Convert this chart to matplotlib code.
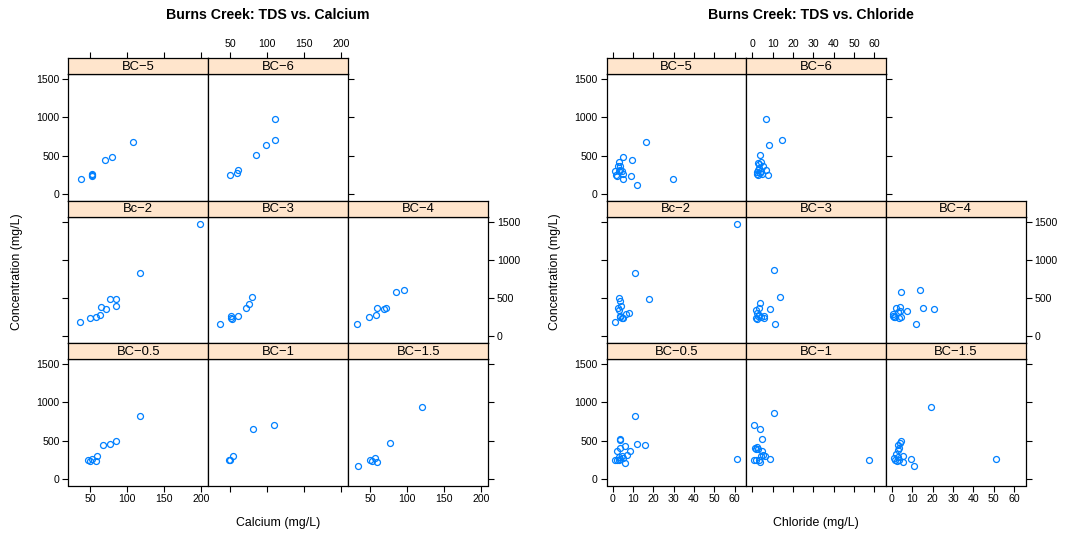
import matplotlib
matplotlib.use("Agg")
import matplotlib.pyplot as plt

plt.rcParams['font.family'] = ['Liberation Sans', 'DejaVu Sans']

# ---- panel order (lattice layout, top row first) ----
panel_rows = [["BC-5", "BC-6", None],
              ["Bc-2", "BC-3", "BC-4"],
              ["BC-0.5", "BC-1", "BC-1.5"]]

# ---- TDS vs Calcium ----
ca_bc5 = [37.4, 51.9, 51.9, 51.9, 69.9, 79.3, 108]
tds_ca_bc5 = [192, 258, 249, 236, 436, 488, 681]
ca_bc6 = [49.6, 58.6, 60, 84.7, 97.8, 110, 110]
tds_ca_bc6 = [244, 275, 314, 510, 641, 711, 982]
ca_bc2 = [35.7, 49.6, 58.1, 63.5, 64.5, 71.2, 77, 84.3, 85.1, 117.6, 197.8]
tds_ca_bc2 = [183, 241, 258, 275, 380, 353, 489, 489, 398, 830, 1471]
ca_bc3 = [36.5, 50.5, 51.4, 52.3, 60.8, 71.2, 74.9, 78.9]
tds_ca_bc3 = [162, 267, 245, 223, 271, 376, 428, 510]
ca_bc4 = [31.6, 48.6, 57.3, 59, 68.5, 71.2, 85.1, 95.9]
tds_ca_bc4 = [162, 258, 275, 372, 363, 372, 585, 602]
ca_bc05 = [47.3, 50, 52.7, 57.7, 59.5, 66.8, 76.6, 84.3, 117.6]
tds_ca_bc05 = [240, 235, 257, 235, 292, 449, 462, 501, 824]
ca_bc1 = [48.6, 49.7, 53.2, 80.3, 109]
tds_ca_bc1 = [244, 244, 296, 658, 698]
ca_bc15 = [33.8, 49.6, 51.9, 56.4, 58.6, 76.1, 119.5]
tds_ca_bc15 = [165, 252, 239, 270, 226, 466, 937]

# ---- TDS vs Chloride ----
cl_bc5 = [1.0, 1.6, 2.3, 3.1, 2.8, 3.6, 3.3, 3.9, 4.6, 5.2, 5.1, 5.1, 9.0, 9.6, 12.1, 16.4, 29.7]
tds_cl_bc5 = [301, 244, 235, 415, 358, 362, 292, 305, 292, 258, 196, 488, 235, 436, 109, 681, 196]
cl_bc6 = [2.6, 2.5, 3.0, 2.8, 3.4, 4.1, 3.3, 4.4, 3.9, 5.1, 6.7, 7.9, 3.8, 8.2, 14.6, 6.9, 2.3, 4.8]
tds_cl_bc6 = [249, 279, 314, 401, 393, 419, 344, 292, 271, 362, 314, 249, 510, 641, 711, 982, 262, 258]
cl_bc2 = [1.1, 3.1, 3.6, 4.2, 2.9, 3.3, 3.9, 4.6, 3.6, 5.2, 6.5, 8.2, 11.0, 18.0, 61.3]
tds_cl_bc2 = [183, 497, 463, 398, 367, 340, 267, 245, 254, 245, 297, 306, 830, 493, 1471]
cl_bc3 = [1.8, 2.3, 2.0, 2.6, 3.1, 3.8, 3.4, 4.3, 5.7, 5.9, 8.7, 11.2, 13.8, 10.7, 2.5]
tds_cl_bc3 = [345, 301, 236, 271, 367, 432, 280, 258, 245, 271, 353, 162, 510, 869, 227]
cl_bc4 = [0.3, 1.0, 1.7, 2.1, 2.8, 3.3, 3.8, 4.1, 4.6, 4.4, 7.6, 12.0, 14.0, 15.4, 20.5, 0.7]
tds_cl_bc4 = [293, 254, 249, 376, 323, 245, 327, 389, 254, 585, 332, 162, 602, 372, 363, 271]
cl_bc05 = [1.3, 2.3, 2.0, 3.3, 3.9, 3.9, 3.9, 3.9, 4.6, 5.2, 5.9, 5.9, 7.2, 8.5, 11.0, 12.1, 16.0, 61.0, 3.0]
tds_cl_bc05 = [240, 240, 362, 283, 257, 397, 527, 505, 296, 266, 209, 423, 318, 366, 824, 462, 445, 257, 249]
cl_bc1 = [1.0, 1.8, 1.1, 3.8, 1.3, 2.5, 2.8, 3.3, 3.9, 4.4, 4.8, 5.1, 6.5, 8.9, 4.6, 10.7, 57.1, 2.0]
tds_cl_bc1 = [240, 249, 698, 658, 397, 419, 393, 240, 226, 296, 362, 318, 292, 257, 524, 868, 249, 388]
cl_bc15 = [1.0, 1.7, 2.5, 3.0, 3.3, 2.1, 2.8, 3.1, 3.8, 4.4, 5.4, 5.4, 9.4, 10.7, 19.4, 51.2, 3.3]
tds_cl_bc15 = [266, 240, 231, 283, 249, 322, 375, 440, 471, 501, 296, 226, 257, 165, 937, 257, 406]

y_ticks = [0, 500, 1000, 1500]
ca_ticks = [50, 100, 150, 200]
cl_ticks = [0, 10, 20, 30, 40, 50, 60]

calcium = {"BC-5": (ca_bc5, tds_ca_bc5), "BC-6": (ca_bc6, tds_ca_bc6),
           "Bc-2": (ca_bc2, tds_ca_bc2), "BC-3": (ca_bc3, tds_ca_bc3),
           "BC-4": (ca_bc4, tds_ca_bc4), "BC-0.5": (ca_bc05, tds_ca_bc05),
           "BC-1": (ca_bc1, tds_ca_bc1), "BC-1.5": (ca_bc15, tds_ca_bc15)}
chloride = {"BC-5": (cl_bc5, tds_cl_bc5), "BC-6": (cl_bc6, tds_cl_bc6),
            "Bc-2": (cl_bc2, tds_cl_bc2), "BC-3": (cl_bc3, tds_cl_bc3),
            "BC-4": (cl_bc4, tds_cl_bc4), "BC-0.5": (cl_bc05, tds_cl_bc05),
            "BC-1": (cl_bc1, tds_cl_bc1), "BC-1.5": (cl_bc15, tds_cl_bc15)}

W, H = 1066, 537
fig = plt.figure(figsize=(W / 100, H / 100), dpi=100)


def rect(x0, y0, x1, y1):
    return [x0 / W, 1 - y1 / H, (x1 - x0) / W, (y1 - y0) / H]


TICK = dict(direction='out', length=4.3, width=0.8, labelsize=7.6, pad=2, colors='black')


def lattice(left_px, panel_w, data, xlim, xticks, title, xlabel, title_x, ylab_x):
    strip_h = 16
    panel_h = 126.5
    top = 58
    for r, row in enumerate(panel_rows):
        st = top + r * (strip_h + panel_h)
        for c, name in enumerate(row):
            if name is None:
                continue
            x0 = left_px + c * panel_w
            x1 = x0 + panel_w
            ax = fig.add_axes(rect(x0, st + strip_h, x1, st + strip_h + panel_h))
            xs, ys = data[name]
            ax.plot(xs, ys, 'o', mfc='none', mec='#0080ff', ms=4.3, mew=0.9)
            ax.set_xlim(xlim)
            ax.set_ylim(-88, 1569)
            ax.set_xticks(xticks)
            ax.set_yticks(y_ticks)
            for s in ax.spines.values():
                s.set_linewidth(0.9)
            ax.tick_params(**TICK)
            last = (c == len([n for n in row if n]) - 1)
            ax.tick_params(axis='y', left=(c == 0), labelleft=(c == 0 and r != 1),
                           right=last, labelright=(last and r == 1))
            bottom_row = (r == 2)
            ax.tick_params(axis='x', top=False, labeltop=False,
                           bottom=bottom_row, labelbottom=(bottom_row and c != 1))

            # strip
            sx = fig.add_axes(rect(x0, st, x1, st + strip_h))
            sx.set_facecolor('#ffe5cc')
            sx.set_xlim(xlim)
            sx.set_yticks([])
            sx.set_xticks(xticks)
            for s in sx.spines.values():
                s.set_linewidth(0.9)
            sx.tick_params(**TICK)
            sx.tick_params(axis='x', bottom=False, labelbottom=False,
                           top=(r == 0), labeltop=(r == 0 and c == 1))
            sx.text(0.5, 0.45, name.replace('-', '\u2212'), transform=sx.transAxes,
                    ha='center', va='center', fontsize=9.4)

    fig.text(title_x / W, 1 - 15 / H, title, ha='center', va='center',
             fontsize=10.2, fontweight='bold')
    fig.text((left_px + 1.5 * panel_w) / W, 1 - 523 / H, xlabel,
             ha='center', va='center', fontsize=8.9)
    fig.text(ylab_x / W, 1 - 272 / H, 'Concentration (mg/L)', rotation=90,
             ha='center', va='center', fontsize=8.9)


lattice(68.3, 140, calcium, (20.3, 209.5), ca_ticks,
        'Burns Creek: TDS vs. Calcium', 'Calcium (mg/L)', 268, 17)
lattice(606.5, 139.7, chloride, (-2.95, 65.6), cl_ticks,
        'Burns Creek: TDS vs. Chloride', 'Chloride (mg/L)', 811, 555)

fig.savefig('out.png', dpi=100)
